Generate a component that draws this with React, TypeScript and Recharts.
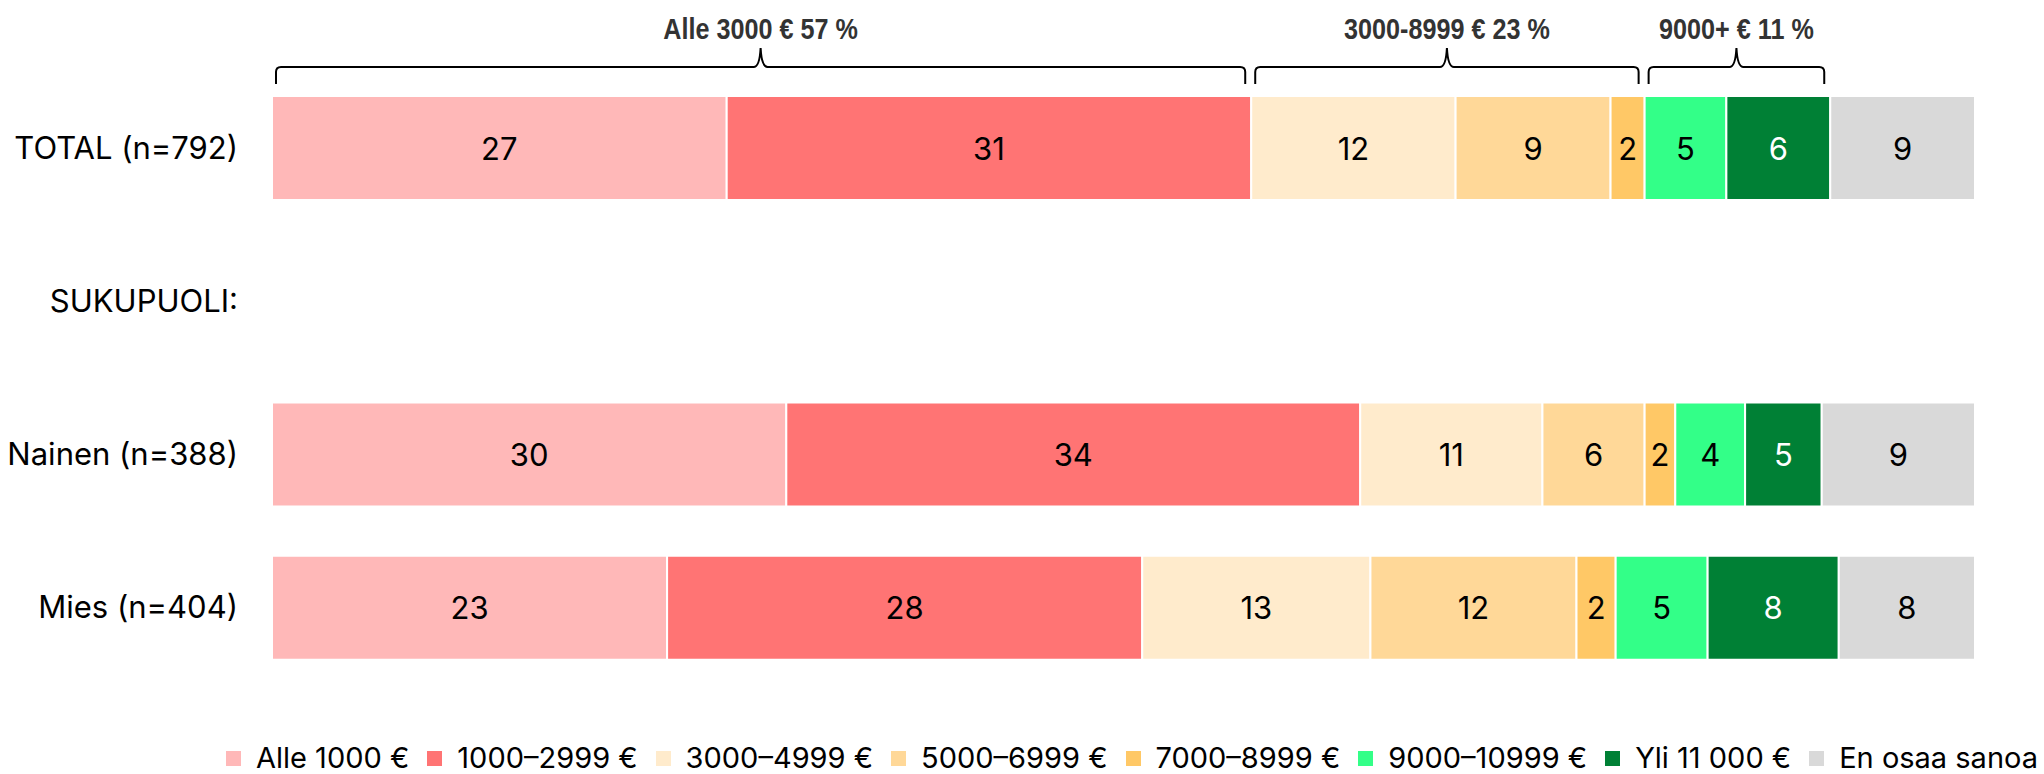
import React from "react";
import { BarChart, Bar, XAxis, YAxis, LabelList, Legend, ReferenceArea } from "recharts";

const FONT = "Inter, 'Open Sans', sans-serif";
const BRACE_FONT = "'Liberation Sans Narrow', 'Liberation Sans', sans-serif";

const categories = ["TOTAL (n=792)", "SUKUPUOLI:", "Nainen (n=388)", "Mies (n=404)"];

const seriesNames = [
  "Alle 1000 €",
  "1000–2999 €",
  "3000–4999 €",
  "5000–6999 €",
  "7000–8999 €",
  "9000–10999 €",
  "Yli 11 000 €",
  "En osaa sanoa",
];
const seriesColors = ["#FFB8B8", "#FF7474", "#FFEBCC", "#FFD898", "#FFC866", "#33FF88", "#008035", "#D9D9D9"];
const labelColors = ["#000", "#000", "#000", "#000", "#000", "#000", "#fff", "#000"];

// percentages per row
const totalValues = [26.7, 30.8, 12.0, 9.1, 2.0, 4.8, 6.1, 8.5];
const nainenValues = [30.2, 33.7, 10.7, 6.0, 1.8, 4.1, 4.5, 9.0];
const miesValues = [23.2, 27.9, 13.4, 12.1, 2.3, 5.4, 7.7, 8.0];
const rowValues = [totalValues, null, nainenValues, miesValues];

// brackets drawn above the TOTAL row: first and last series of each group
const groupLabels = ["Alle 3000 € 57 %", "3000-8999 € 23 %", "9000+ € 11 %"];
const groupRanges = [
  [0, 1],
  [2, 4],
  [5, 6],
];

const data = categories.map((name, i) => {
  const row: Record<string, any> = { name };
  const vals = rowValues[i];
  seriesNames.forEach((_, j) => {
    row[`s${j}`] = vals ? vals[j] : null;
  });
  return row;
});

const sumTo = (n: number) => totalValues.slice(0, n).reduce((a, b) => a + b, 0);

const Brace = (props: any) => {
  const { x, y, width, label } = props;
  const x1 = x + 4;
  const x2 = x + width - 6;
  const xm = (x1 + x2) / 2;
  const yl = y - 4;
  const yb = y + 13;
  const yt = y - 23;
  const d = `M${x1},${yb} L${x1},${yl + 5} Q${x1},${yl} ${x1 + 5},${yl} L${xm - 7},${yl} Q${xm - 1},${yl} ${xm},${yt} Q${xm + 1},${yl} ${xm + 7},${yl} L${x2 - 5},${yl} Q${x2},${yl} ${x2},${yl + 5} L${x2},${yb}`;
  return (
    <g>
      <path d={d} fill="none" stroke="#000" strokeWidth={2} />
      {/* condensed bold heading */}
      <g transform={`translate(${xm},${y - 32}) scale(0.84,1)`}>
        <text x={0} y={0} textAnchor="middle" fontFamily={BRACE_FONT} fontWeight="bold" fontSize={30} fill="#333">
          {label}
        </text>
      </g>
    </g>
  );
};

const valueLabel = (color: string) => (props: any) => {
  const { x, y, width, height, value } = props;
  if (value == null) return null;
  return (
    <text
      x={x + width / 2}
      y={y + height / 2}
      textAnchor="middle"
      dominantBaseline="central"
      fill={color}
      fontSize={31}
      fontFamily={FONT}
    >
      {Math.round(value)}
    </text>
  );
};

const LegendRow = () => (
  <div
    style={{
      display: "flex",
      justifyContent: "flex-end",
      alignItems: "center",
      fontFamily: FONT,
      fontSize: 29,
      lineHeight: "28px",
      color: "#000",
      paddingRight: 6,
    }}
  >
    {seriesNames.map((n, i) => (
      <div key={n} style={{ display: "flex", alignItems: "center", marginLeft: i ? 18 : 0 }}>
        <span style={{ width: 15, height: 15, background: seriesColors[i], marginRight: 15 }} />
        <span style={{ whiteSpace: "nowrap" }}>{n}</span>
      </div>
    ))}
  </div>
);

export default function App() {
  return (
    <div style={{ position: "absolute", left: 0, top: 0 }}>
      <BarChart
        width={2044}
        height={774}
        data={data}
        layout="vertical"
        margin={{ top: 71, right: 69, bottom: 90, left: 0 }}
      >
        <XAxis type="number" domain={[0, 100]} hide />
        <YAxis
          type="category"
          dataKey="name"
          width={272}
          axisLine={false}
          tickLine={false}
          tickSize={0}
          tickMargin={34}
          tick={{ fontSize: 31, fill: "#000", fontFamily: FONT }}
        />
        {seriesNames.map((s, j) => (
          <Bar
            key={s}
            dataKey={`s${j}`}
            name={s}
            stackId="a"
            fill={seriesColors[j]}
            stroke="#fff"
            strokeWidth={2}
            barSize={104}
            isAnimationActive={false}
          >
            <LabelList dataKey={`s${j}`} content={valueLabel(labelColors[j])} />
          </Bar>
        ))}
        {groupRanges.map(([a, b], g) => (
          <ReferenceArea
            key={g}
            x1={sumTo(a)}
            x2={sumTo(b + 1)}
            fill="none"
            stroke="none"
            shape={(p: any) => <Brace {...p} label={groupLabels[g]} />}
          />
        ))}
        <Legend
          layout="horizontal"
          verticalAlign="middle"
          align="center"
          wrapperStyle={{ top: 744, left: 0, width: 2044 }}
          content={() => <LegendRow />}
        />
      </BarChart>
    </div>
  );
}
